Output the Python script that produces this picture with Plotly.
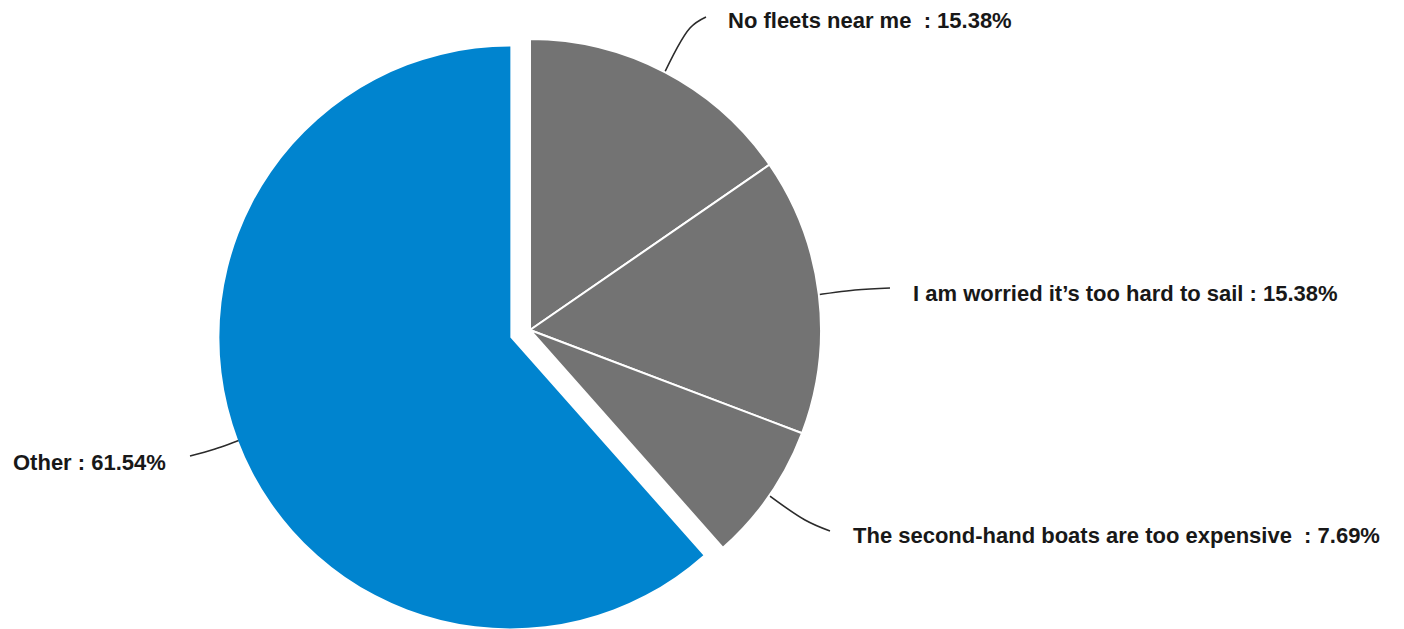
import math
import plotly.graph_objects as go

# Survey answers and their response counts
categories = [
    "No fleets near me\u00a0",
    "I am worried it\u2019s too hard to sail",
    "The second-hand boats are too expensive\u00a0",
    "Other",
]
counts = [2, 2, 1, 8]

W, H = 1404, 629
GREY = "#737373"
BLUE = "#0084CF"
CLEAR = "rgba(0,0,0,0)"

total = sum(counts)
shares = [c / total for c in counts]
labels = [f"{name} : {100 * s:.2f}%" for name, s in zip(categories, shares)]

# pie geometry (pixels)
cx, cy, r = 530, 330, 291
pull_px = 21

# mid-angle of every slice, clockwise from 12 o'clock
mids, acc = [], 0.0
for s in shares:
    mids.append(2 * math.pi * (acc + s / 2))
    acc += s

blue_idx = len(counts) - 1
bx = cx + pull_px * math.sin(mids[blue_idx])
by = cy - pull_px * math.cos(mids[blue_idx])


def domain(x0, y0, rad):
    return dict(
        x=[max(0, (x0 - rad) / W), min(1, (x0 + rad) / W)],
        y=[max(0, 1 - (y0 + rad) / H), min(1, 1 - (y0 - rad) / H)],
    )


fig = go.Figure()

# grey answers, sharing the main centre
fig.add_trace(go.Pie(
    values=counts, labels=categories, sort=False, direction="clockwise", rotation=0,
    marker=dict(colors=[GREY, GREY, GREY, CLEAR],
                line=dict(color="white", width=[2, 2, 2, 0])),
    textinfo="none", hoverinfo="skip", showlegend=False,
    domain=domain(cx, cy, r),
))
# "Other" slice, pulled out from the centre
fig.add_trace(go.Pie(
    values=counts, labels=categories, sort=False, direction="clockwise", rotation=0,
    marker=dict(colors=[CLEAR, CLEAR, CLEAR, BLUE], line=dict(width=0)),
    textinfo="none", hoverinfo="skip", showlegend=False,
    domain=domain(bx, by, r),
))

# label placement: (elbow point, line end, text anchor, text side)
label_layout = [
    ((690, 28), (706, 17), (726, 20), "left"),
    ((855, 290), (890, 288), (911, 293), "left"),
    ((805, 520), (830, 531), (851, 535), "left"),
    ((215, 449), (190, 456), (168, 462), "right"),
]

centres = [(cx, cy), (cx, cy), (cx, cy), (bx, by)]
annotations = []
for i, (elbow, end, anchor, side) in enumerate(label_layout):
    ox, oy = centres[i]
    rr = r * 0.96
    sx = ox + rr * math.sin(mids[i])
    sy = oy - rr * math.cos(mids[i])
    fig.add_trace(go.Scatter(
        x=[sx, elbow[0], end[0]], y=[sy, elbow[1], end[1]],
        mode="lines", line=dict(color="#2b2b2b", width=1.6, shape="spline"),
        hoverinfo="skip", showlegend=False,
    ))
    annotations.append(dict(
        x=anchor[0], y=anchor[1], xref="x", yref="y", text=labels[i],
        showarrow=False, xanchor=side, yanchor="middle",
        font=dict(family="Liberation Sans, Arial, sans-serif", size=22,
                  color="#181818", weight="bold"),
    ))

fig.update_layout(
    width=W, height=H,
    margin=dict(l=0, r=0, t=0, b=0),
    paper_bgcolor="white", plot_bgcolor="rgba(0,0,0,0)",
    xaxis=dict(range=[0, W], visible=False, fixedrange=True),
    yaxis=dict(range=[H, 0], visible=False, fixedrange=True),
    annotations=annotations,
    showlegend=False,
)

fig.write_html("out.html")
